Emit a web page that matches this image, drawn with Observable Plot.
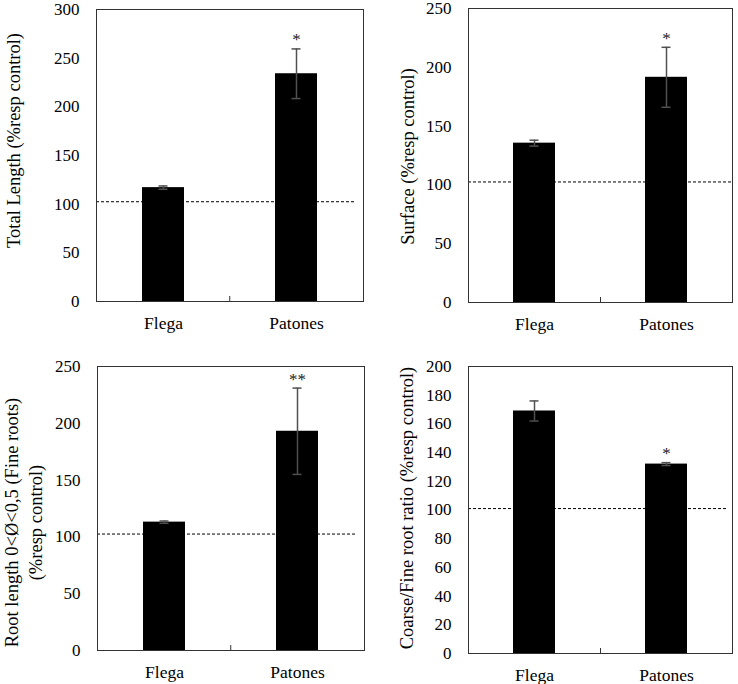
<!DOCTYPE html>
<html>
<head>
<meta charset="utf-8">
<script src="https://cdn.jsdelivr.net/npm/d3@7"></script>
<script src="https://cdn.jsdelivr.net/npm/@observablehq/plot@0.6"></script>
<style>
  body { margin: 0; background: #fff; }
  #wrap { position: relative; width: 738px; height: 684px; overflow: hidden; }
  #wrap > svg { position: absolute; }
  #wrap svg, #wrap svg text, #wrap svg g { font-family: "Liberation Serif", "Times New Roman", serif !important; }
</style>
</head>
<body>
<div id="wrap"></div>
<script>
// ---- data ----
const sites = ["Flega", "Patones"];

const totalLength = [117, 234];
const totalLengthErr = [1.7, 25.5];

const surface = [135.5, 191.5];
const surfaceErr = [2.5, 25.5];

const fineRootLength = [113, 193];
const fineRootLengthErr = [1, 38];

const coarseFineRatio = [169, 132];
const coarseFineRatioErr = [7, 1];

const significance = [["", "*"], ["", "*"], ["", "**"], ["", "*"]];
const controlLevel = [102.5, 102.5, 102.5, 101];

const yLabels = [
  "Total Length (%resp control)",
  "Surface (%resp control)",
  "Root length 0<Ø<0,5 (Fine roots)\n(%resp control)",
  "Coarse/Fine root ratio (%resp control)"
];
const yMax = [300, 250, 250, 200];
const yStep = [50, 50, 50, 20];

const means = [totalLength, surface, fineRootLength, coarseFineRatio];
const errs = [totalLengthErr, surfaceErr, fineRootLengthErr, coarseFineRatioErr];

// ---- layout (positions / styles) ----
const W = 369, H = 342;
const layout = [
  {left: 0,   top: 0,   ml: 96, mt: 9,  mr: 6, mb: 41, lx: -84, ly: -15, ri: 7},
  {left: 369, top: 0,   ml: 99, mt: 8,  mr: 6, mb: 40, lx: -62, ly: 1,   ri: 1},
  {left: 0,   top: 342, ml: 97, mt: 24, mr: 5, mb: 34, lx: -75, ly: 14,  ri: 8},
  {left: 369, top: 342, ml: 99, mt: 24, mr: 6, mb: 31, lx: -63, ly: -2,  ri: 4}
];
const font = "Liberation Serif, Times New Roman, serif";

const wrap = document.getElementById("wrap");

for (let i = 0; i < 4; i++) {
  const L = layout[i];
  const data = sites.map((s, j) => ({site: s, v: means[i][j], e: errs[i][j], sig: significance[i][j]}));
  const plotW = W - L.ml - L.mr;
  const plotH = H - L.mt - L.mb;
  const chart = Plot.plot({
    width: W,
    height: H,
    marginLeft: L.ml,
    marginTop: L.mt,
    marginRight: L.mr,
    marginBottom: L.mb,
    style: {fontFamily: font, fontSize: "17px", color: "#000", background: "transparent", overflow: "visible"},
    x: {domain: sites, paddingInner: 0.685, paddingOuter: 0.3425},
    y: {domain: [0, yMax[i]]},
    marks: [
      Plot.ruleY([controlLevel[i]], {stroke: "#000", strokeWidth: 1, strokeDasharray: "3,2", insetRight: L.ri}),
      Plot.barY(data, {x: "site", y: "v", fill: "#000"}),
      Plot.ruleX(data, {x: "site", y1: d => d.v - d.e, y2: d => d.v + d.e, stroke: "#505050", strokeWidth: 1.5}),
      Plot.tickY(data, {x: "site", y: d => d.v + d.e, stroke: "#505050", strokeWidth: 1.5, insetLeft: 16.5, insetRight: 16.5}),
      Plot.tickY(data, {x: "site", y: d => d.v - d.e, stroke: "#505050", strokeWidth: 1.5, insetLeft: 16.5, insetRight: 16.5}),
      Plot.text(data, {x: "site", y: d => d.v + d.e, text: "sig", dy: -9, fontSize: 17, fontFamily: font, lineAnchor: "middle", fill: "#222"}),
      Plot.ruleX([sites[1]], {x: d => d, dx: -plotW / 4, insetTop: plotH - 5, stroke: "#333", strokeWidth: 1}),
      Plot.frame({stroke: "#333", strokeWidth: 1}),
      Plot.axisY({ticks: d3.range(0, yMax[i] + 1, yStep[i]), tickSize: 0, tickPadding: 17, label: null, fontSize: 17, fontFamily: font, fill: "#000"}),
      Plot.axisX({tickSize: 0, tickPadding: 15, label: null, fontSize: 17.5, fontFamily: font, fill: "#000"}),
      Plot.text([yLabels[i]], {text: d => d, frameAnchor: "left", textAnchor: "middle", rotate: -90, dx: L.lx, dy: L.ly, fontSize: 18.5, fontFamily: font, lineHeight: 1.3, lineAnchor: "middle", fill: "#000"})
    ]
  });
  chart.style.left = L.left + "px";
  chart.style.top = L.top + "px";
  wrap.appendChild(chart);
}
</script>
</body>
</html>
